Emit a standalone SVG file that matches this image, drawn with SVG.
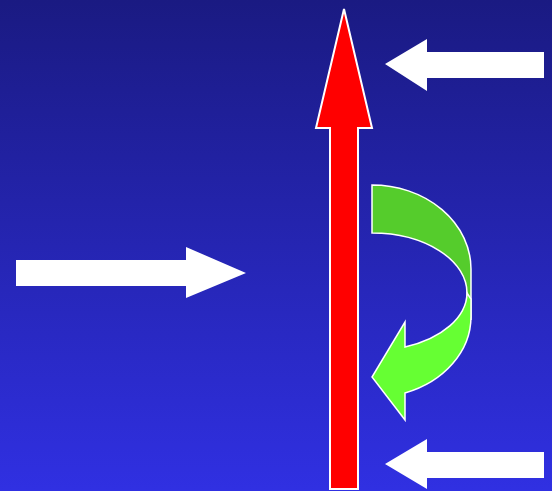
<svg xmlns="http://www.w3.org/2000/svg" width="552" height="491" viewBox="0 0 552 491">
<defs>
<linearGradient id="bg" x1="0" y1="0" x2="0" y2="1">
<stop offset="0" stop-color="#1a1a82"/>
<stop offset="1" stop-color="#3030e2"/>
</linearGradient>
<style>
.w{fill:#ffffff;stroke:none}
.red{fill:#ff0000;stroke:#ffffff;stroke-width:2;stroke-linejoin:miter}
.g1{fill:#55cc2c;stroke:#ffffff;stroke-width:1.5;stroke-linejoin:miter}
.g2{fill:#66ff33;stroke:#ffffff;stroke-width:1.5;stroke-linejoin:miter}
</style>
</defs>
<rect x="0" y="0" width="552" height="491" fill="url(#bg)"/>
<g id="connectors">
<polygon id="arrow-left-in" class="w" points="16,260 186,260 186,247 246,273 186,298 186,286 16,286"/>
<polygon id="arrow-top-right" class="w" points="544,52 427,52 427,39 385,64 427,91 427,78 544,78"/>
<polygon id="arrow-bottom-right" class="w" points="544,452 427,452 427,439 385,464 427,489 427,478 544,478"/>
</g>
<g id="red-arrow">
<polygon class="red" points="344,9 372,128 358,128 358,489 330,489 330,128 316,128"/>
</g>
<g id="green-arrow">
<path class="g1" d="M372,185 A99,84 0 0 1 471,269 L471,320 L467,293 A95,60 0 0 0 372,233 Z"/>
<path class="g2" d="M467,293 L471,299 L471,317 A99,81 0 0 1 405,393 L405,420 L372,377 L405,322 L405,347 A95,58 0 0 0 467,293 Z"/>
</g>
</svg>
